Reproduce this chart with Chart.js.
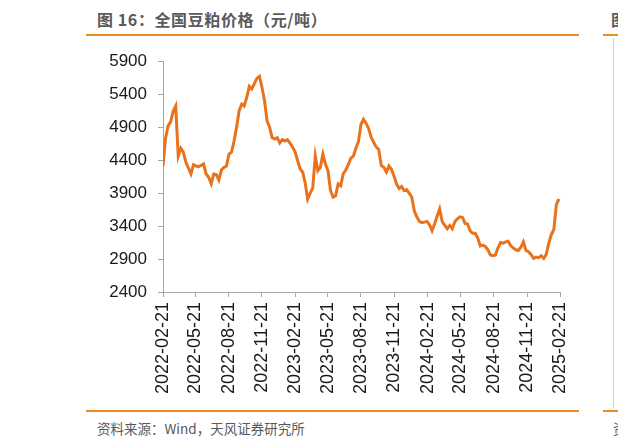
<!DOCTYPE html>
<html>
<head>
<meta charset="utf-8">
<script src="https://cdn.jsdelivr.net/npm/chart.js@4.4.1/dist/chart.umd.min.js"></script>
<style>
    body { margin: 0; background: #fff; width: 618px; height: 446px; overflow: hidden; position: relative; font-family: "Noto Sans CJK SC", sans-serif; }
    .titulo { position: absolute; left: 97px; top: 7px; font-size: 16px; letter-spacing: 0.6px; font-weight: bold; color: #5a5a5a; white-space: nowrap; }
    .fuente { position: absolute; left: 97px; top: 418px; font-size: 13.5px; color: #595959; white-space: nowrap; }
    .linea { position: absolute; height: 2px; background: #f08a24; }
    #grafica { position: absolute; left: 85px; top: 40px; }
</style>
</head>
<body>
<div class="titulo">图 16：全国豆粕价格（元/吨）</div>
<div class="linea" style="left:86px; width:493px; top:34px;"></div>
<div class="linea" style="left:86px; width:493px; top:410px;"></div>
<div class="fuente">资料来源：Wind，天风证券研究所</div>

<!-- panel vecino cortado a la derecha -->
<div class="titulo" style="left:611px;">图</div>
<div class="linea" style="left:603px; width:15px; top:34px;"></div>
<div class="linea" style="left:603px; width:15px; top:410px;"></div>
<div style="position:absolute; left:613px; top:38px; width:1px; height:370px; background:#d0d0d0;"></div>
<div class="fuente" style="left:613px;">资</div>

<canvas id="grafica" width="502" height="368"></canvas>

<script>
// Fecha inicial y precios semanales (yuan/tonelada)
var fechaInicio = '2022-02-21';
var fechaFin = '2025-02-21';
var precios = [
    4310, 4730, 4920, 4980, 5140, 5220, 4460, 4580, 4520, 4370,
    4280, 4190, 4330, 4310, 4300, 4320, 4340, 4190, 4140, 4040,
    4190, 4180, 4100, 4250, 4290, 4310, 4490, 4520, 4690, 4900,
    5150, 5250, 5220, 5350, 5520, 5480, 5560, 5640, 5670, 5500,
    5300, 4990, 4900, 4740, 4720, 4740, 4660, 4710, 4690, 4710,
    4660, 4600, 4530, 4400, 4270, 4220, 4060, 3810, 3900, 3980,
    4460, 4240, 4290, 4490, 4340, 4240, 3940, 3840, 3860, 4040,
    4010, 4190, 4250, 4330, 4430, 4460, 4580, 4680, 4940, 5020,
    4960, 4880, 4750, 4670, 4600, 4560, 4320, 4290, 4220, 4310,
    4260, 4160, 4040, 3970, 4000, 3940, 3950, 3900, 3840, 3630,
    3540, 3470, 3450, 3460, 3470, 3420, 3330, 3430, 3550, 3660,
    3470, 3410, 3360, 3410, 3360, 3470, 3510, 3540, 3530, 3440,
    3430, 3330, 3290, 3290, 3220, 3100, 3110, 3090, 3040, 2960,
    2950, 2960, 3070, 3150, 3140, 3160, 3170, 3100, 3070, 3040,
    3030, 3080, 3160, 3030, 3010, 2970, 2910, 2930, 2920, 2950,
    2910, 2970, 3140, 3270, 3350, 3730, 3810
];
// Etiquetas del eje x
var etiquetasX = [
    '2022-02-21', '2022-05-21', '2022-08-21', '2022-11-21',
    '2023-02-21', '2023-05-21', '2023-08-21', '2023-11-21',
    '2024-02-21', '2024-05-21', '2024-08-21', '2024-11-21',
    '2025-02-21'
];
var ticksY = [2400, 2900, 3400, 3900, 4400, 4900, 5400, 5900];

var DIA = 86400000;
function dias(f) {
    return Math.round((Date.parse(f) - Date.parse(fechaInicio)) / DIA);
}
var diasTicks = etiquetasX.map(dias);
var puntos = precios.map(function(v, i) {
    return { x: i * 7, y: v };
});

var colorEje = '#a6a6a6';

var ctx = document.getElementById('grafica').getContext('2d');
window.myLine = new Chart(ctx, {
    type: 'line',
    data: {
        datasets: [{
            label: '豆粕价格',
            data: puntos,
            borderColor: '#e9721b',
            borderWidth: 3,
            pointRadius: 0,
            tension: 0,
            fill: false
        }]
    },
    options: {
        responsive: false,
        animation: false,
        layout: { padding: { left: 0, right: 0, top: 20, bottom: 0 } },
        plugins: {
            legend: { display: false },
            tooltip: { enabled: false }
        },
        scales: {
            x: {
                type: 'linear',
                min: 0,
                max: dias(fechaFin),
                afterBuildTicks: function(scale) {
                    scale.ticks = diasTicks.map(function(d) { return { value: d }; });
                },
                afterFit: function(scale) { scale.height = 116; },
                ticks: {
                    autoSkip: false,
                    minRotation: 90,
                    maxRotation: 90,
                    padding: 5,
                    color: '#1a1a1a',
                    font: { family: 'Liberation Sans', size: 18 },
                    callback: function(v) {
                        var i = diasTicks.indexOf(v);
                        return i >= 0 ? etiquetasX[i] : '';
                    }
                },
                grid: { drawOnChartArea: false, tickLength: 5, color: colorEje },
                border: { color: colorEje, width: 1 }
            },
            y: {
                min: ticksY[0],
                max: ticksY[ticksY.length - 1],
                afterBuildTicks: function(scale) {
                    scale.ticks = ticksY.map(function(v) { return { value: v }; });
                },
                afterFit: function(scale) { scale.width = 78; },
                ticks: {
                    padding: 11,
                    color: '#1a1a1a',
                    font: { family: 'Liberation Sans', size: 17 },
                    callback: function(v) { return String(v); }
                },
                grid: { drawOnChartArea: false, tickLength: 5, color: colorEje },
                border: { color: colorEje, width: 1 }
            }
        }
    }
});
</script>
</body>
</html>
